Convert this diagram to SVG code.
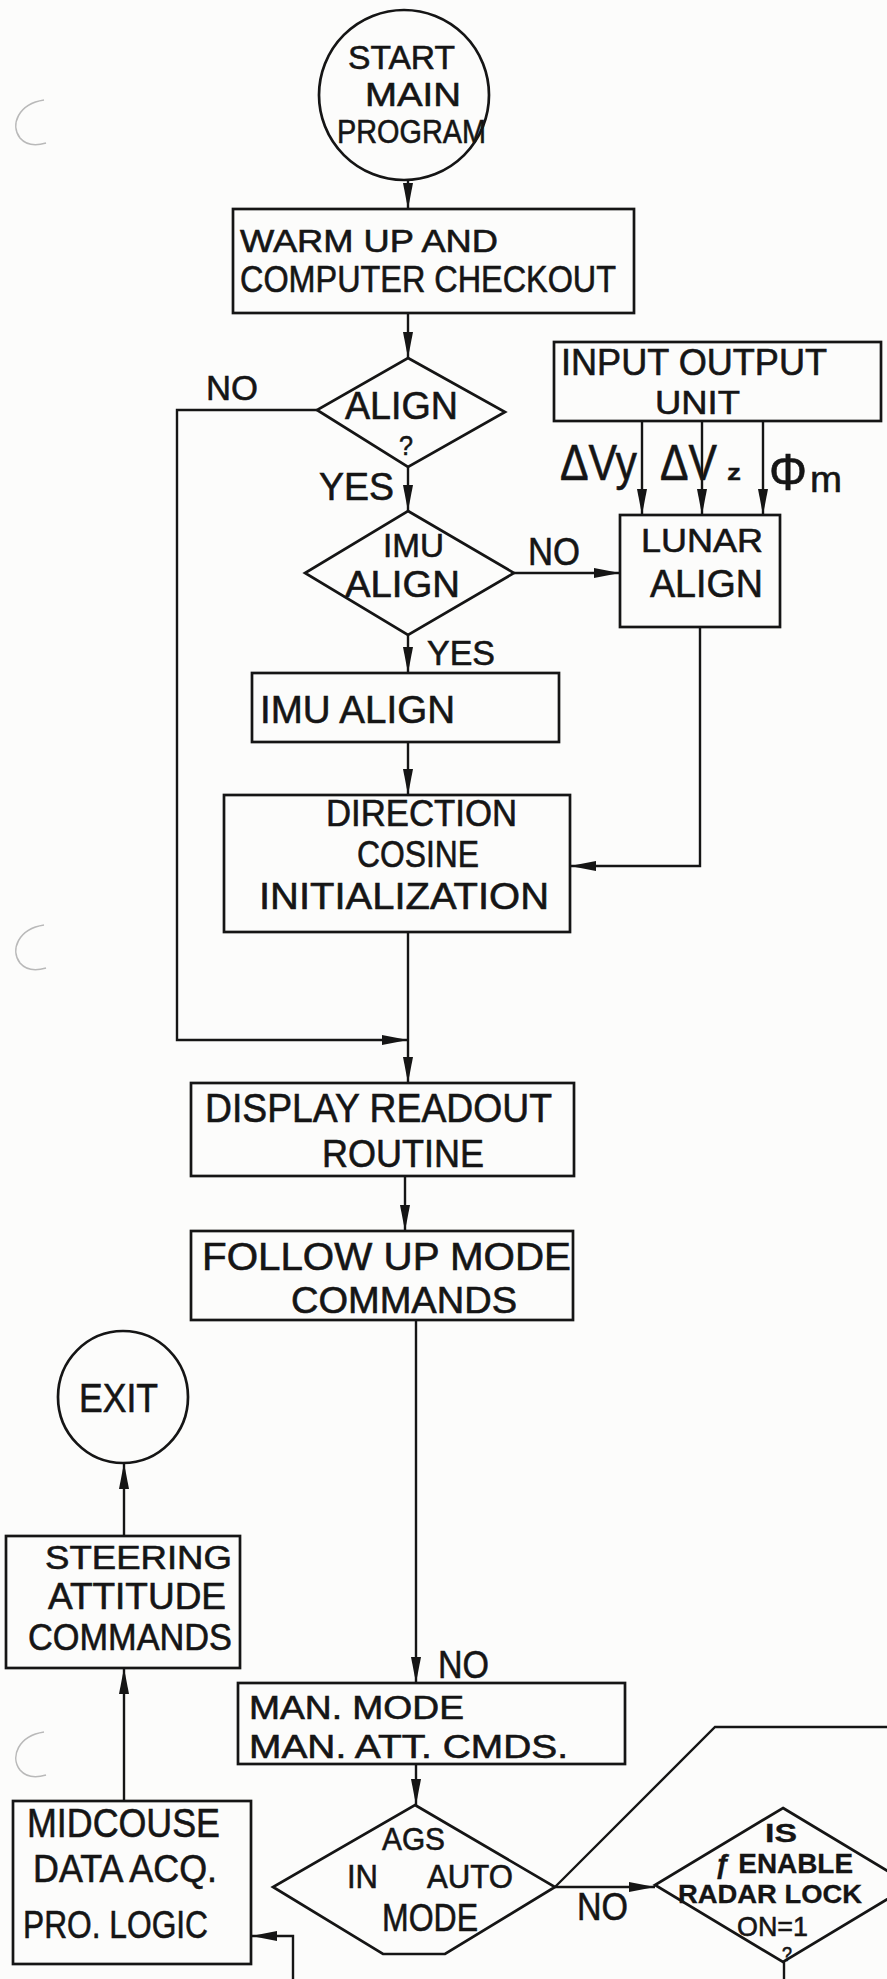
<svg xmlns="http://www.w3.org/2000/svg" width="887" height="1979" viewBox="0 0 887 1979">
<style>
.bg{fill:#fcfcfb}
.n{fill:none;stroke:#151515;stroke-width:2.7;stroke-linejoin:miter}
.c{fill:none;stroke:#151515;stroke-width:2.4}
.t{font-family:"Liberation Sans",Arial,sans-serif;fill:#151515;stroke:#151515;stroke-width:0.6;font-weight:normal}
.b{font-weight:bold;stroke-width:0.3}
.ghost{fill:none;stroke:#b9b9b9;stroke-width:1.6}
</style>
<defs>
<marker id="ah" markerUnits="userSpaceOnUse" markerWidth="28" markerHeight="14" refX="26" refY="6" orient="auto">
<path d="M0,1 L26,6 L0,11 Z" fill="#151515"/>
</marker>
</defs>
<rect class="bg" x="0" y="0" width="887" height="1979"/>
<g id="punch-marks">
<path class="ghost" d="M44,100 C18,104 10,125 20,138 C26,145 36,146 46,143"/>
<path class="ghost" d="M44,925 C18,929 10,950 20,963 C26,970 36,971 46,968"/>
<path class="ghost" d="M44,1732 C18,1736 10,1757 20,1770 C26,1777 36,1778 46,1775"/>
</g>
<g id="connectors">
<path class="c" d="M408,180 L408,209" marker-end="url(#ah)"/>
<path class="c" d="M408,313 L408,358" marker-end="url(#ah)"/>
<path class="c" d="M317,410 L177,410 L177,1040 L408,1040" marker-end="url(#ah)"/>
<path class="c" d="M408,467 L408,511" marker-end="url(#ah)"/>
<path class="c" d="M514,573 L620,573" marker-end="url(#ah)"/>
<path class="c" d="M642,421 L642,515" marker-end="url(#ah)"/>
<path class="c" d="M702,421 L702,515" marker-end="url(#ah)"/>
<path class="c" d="M763,421 L763,515" marker-end="url(#ah)"/>
<path class="c" d="M408,635 L408,673" marker-end="url(#ah)"/>
<path class="c" d="M408,742 L408,795" marker-end="url(#ah)"/>
<path class="c" d="M700,627 L700,866 L570,866" marker-end="url(#ah)"/>
<path class="c" d="M408,932 L408,1083" marker-end="url(#ah)"/>
<path class="c" d="M405,1176 L405,1231" marker-end="url(#ah)"/>
<path class="c" d="M416,1320 L416,1683" marker-end="url(#ah)"/>
<path class="c" d="M416,1764 L416,1805" marker-end="url(#ah)"/>
<path class="c" d="M555,1887 L655,1887" marker-end="url(#ah)"/>
<path class="c" d="M555,1887 L715,1727 L887,1727"/>
<path class="c" d="M784,1962 L784,1979"/>
<path class="c" d="M293,1979 L293,1936 L251,1936" marker-end="url(#ah)"/>
<path class="c" d="M124,1801 L124,1668" marker-end="url(#ah)"/>
<path class="c" d="M124,1536 L124,1463" marker-end="url(#ah)"/>
</g>
<g id="conn-labels">
<text class="t" x="206" y="400" font-size="35" textLength="52" lengthAdjust="spacingAndGlyphs">NO</text>
<text class="t" x="319" y="500" font-size="39" textLength="75" lengthAdjust="spacingAndGlyphs">YES</text>
<text class="t" x="528" y="565" font-size="38" textLength="52" lengthAdjust="spacingAndGlyphs">NO</text>
<text class="t" x="427" y="665" font-size="35" textLength="68" lengthAdjust="spacingAndGlyphs">YES</text>
<text class="t" x="560" y="480" font-size="50" textLength="77" lengthAdjust="spacingAndGlyphs">ΔVy</text>
<text class="t" x="660" y="480" font-size="50" textLength="57" lengthAdjust="spacingAndGlyphs">ΔV</text>
<text class="t b" x="727" y="480" font-size="22" textLength="14" lengthAdjust="spacingAndGlyphs">z</text>
<text class="t" x="769" y="490" font-size="52" textLength="38" lengthAdjust="spacingAndGlyphs">Φ</text>
<text class="t" x="810" y="492" font-size="36" textLength="32" lengthAdjust="spacingAndGlyphs">m</text>
<text class="t" x="438" y="1678" font-size="39" textLength="51" lengthAdjust="spacingAndGlyphs">NO</text>
<text class="t" x="577" y="1920" font-size="39" textLength="51" lengthAdjust="spacingAndGlyphs">NO</text>
</g>
<g id="start">
<ellipse class="n" cx="404" cy="95" rx="85" ry="85"/>
<text class="t" font-size="34"><tspan x="348" y="69" textLength="107" lengthAdjust="spacingAndGlyphs">START</tspan><tspan x="365" y="106" textLength="96" lengthAdjust="spacingAndGlyphs">MAIN</tspan><tspan x="337" y="143" textLength="149" lengthAdjust="spacingAndGlyphs">PROGRAM</tspan></text>
</g>
<g id="warmup">
<rect class="n" x="233" y="209" width="401" height="104"/>
<text class="t"><tspan x="240" y="252" font-size="32" textLength="258" lengthAdjust="spacingAndGlyphs">WARM UP AND</tspan><tspan x="240" y="292" font-size="36" textLength="376" lengthAdjust="spacingAndGlyphs">COMPUTER CHECKOUT</tspan></text>
</g>
<g id="align-q">
<polygon class="n" points="408,358 505,412 408,467 317,410"/>
<text class="t"><tspan x="345" y="419" font-size="38" textLength="113" lengthAdjust="spacingAndGlyphs">ALIGN</tspan><tspan x="399" y="455" font-size="28" textLength="14" lengthAdjust="spacingAndGlyphs">?</tspan></text>
</g>
<g id="imu-align-q">
<polygon class="n" points="408,511 514,573 408,635 305,573"/>
<text class="t"><tspan x="383" y="557" font-size="34" textLength="61" lengthAdjust="spacingAndGlyphs">IMU</tspan><tspan x="345" y="597" font-size="36" textLength="115" lengthAdjust="spacingAndGlyphs">ALIGN</tspan></text>
</g>
<g id="io-unit">
<rect class="n" x="554" y="342" width="327" height="79"/>
<text class="t"><tspan x="561" y="375" font-size="36" textLength="266" lengthAdjust="spacingAndGlyphs">INPUT OUTPUT</tspan><tspan x="655" y="414" font-size="34" textLength="85" lengthAdjust="spacingAndGlyphs">UNIT</tspan></text>
</g>
<g id="lunar-align">
<rect class="n" x="620" y="515" width="160" height="112"/>
<text class="t"><tspan x="641" y="552" font-size="34" textLength="122" lengthAdjust="spacingAndGlyphs">LUNAR</tspan><tspan x="650" y="597" font-size="38" textLength="113" lengthAdjust="spacingAndGlyphs">ALIGN</tspan></text>
</g>
<g id="imu-align">
<rect class="n" x="252" y="673" width="307" height="69"/>
<text class="t" x="260" y="723" font-size="39" textLength="195" lengthAdjust="spacingAndGlyphs">IMU ALIGN</text>
</g>
<g id="dir-cosine">
<rect class="n" x="224" y="795" width="346" height="137"/>
<text class="t" font-size="36"><tspan x="326" y="826" textLength="191" lengthAdjust="spacingAndGlyphs">DIRECTION</tspan><tspan x="357" y="867" textLength="122" lengthAdjust="spacingAndGlyphs">COSINE</tspan><tspan x="259" y="909" font-size="37" textLength="290" lengthAdjust="spacingAndGlyphs">INITIALIZATION</tspan></text>
</g>
<g id="display-readout">
<rect class="n" x="191" y="1083" width="383" height="93"/>
<text class="t"><tspan x="205" y="1122" font-size="40" textLength="347" lengthAdjust="spacingAndGlyphs">DISPLAY READOUT</tspan><tspan x="322" y="1167" font-size="38" textLength="162" lengthAdjust="spacingAndGlyphs">ROUTINE</tspan></text>
</g>
<g id="follow-up">
<rect class="n" x="191" y="1231" width="382" height="89"/>
<text class="t"><tspan x="202" y="1270" font-size="38" textLength="369" lengthAdjust="spacingAndGlyphs">FOLLOW UP MODE</tspan><tspan x="291" y="1313" font-size="36" textLength="226" lengthAdjust="spacingAndGlyphs">COMMANDS</tspan></text>
</g>
<g id="exit">
<ellipse class="n" cx="123" cy="1397" rx="65" ry="66"/>
<text class="t" x="79" y="1412" font-size="40" textLength="79" lengthAdjust="spacingAndGlyphs">EXIT</text>
</g>
<g id="steering">
<rect class="n" x="6" y="1536" width="234" height="132"/>
<text class="t"><tspan x="45" y="1569" font-size="33" textLength="187" lengthAdjust="spacingAndGlyphs">STEERING</tspan><tspan x="48" y="1609" font-size="36" textLength="178" lengthAdjust="spacingAndGlyphs">ATTITUDE</tspan><tspan x="28" y="1650" font-size="36" textLength="204" lengthAdjust="spacingAndGlyphs">COMMANDS</tspan></text>
</g>
<g id="man-mode">
<rect class="n" x="238" y="1683" width="387" height="81"/>
<text class="t" font-size="33"><tspan x="249" y="1719" textLength="215" lengthAdjust="spacingAndGlyphs">MAN. MODE</tspan><tspan x="249" y="1758" textLength="319" lengthAdjust="spacingAndGlyphs">MAN. ATT. CMDS.</tspan></text>
</g>
<g id="midcourse">
<rect class="n" x="13" y="1801" width="238" height="163"/>
<text class="t"><tspan x="27" y="1837" font-size="40" textLength="193" lengthAdjust="spacingAndGlyphs">MIDCOUSE</tspan><tspan x="33" y="1882" font-size="38" textLength="184" lengthAdjust="spacingAndGlyphs">DATA ACQ.</tspan><tspan x="23" y="1938" font-size="39" textLength="185" lengthAdjust="spacingAndGlyphs">PRO. LOGIC</tspan></text>
</g>
<g id="ags-auto">
<polygon class="n" points="415,1805 555,1887 445,1954 383,1954 273,1887"/>
<text class="t"><tspan x="382" y="1850" font-size="32" textLength="63" lengthAdjust="spacingAndGlyphs">AGS</tspan><tspan x="347" y="1888" font-size="34" textLength="31" lengthAdjust="spacingAndGlyphs">IN</tspan><tspan x="427" y="1888" font-size="34" textLength="86" lengthAdjust="spacingAndGlyphs">AUTO</tspan><tspan x="382" y="1931" font-size="38" textLength="96" lengthAdjust="spacingAndGlyphs">MODE</tspan></text>
</g>
<g id="radar-lock">
<polygon class="n" points="783,1808 911,1885 783,1962 655,1885"/>
<text class="t"><tspan class="b" x="765" y="1842" font-size="25" textLength="32" lengthAdjust="spacingAndGlyphs">IS</tspan><tspan class="b" x="715" y="1873" font-size="28" textLength="138" lengthAdjust="spacingAndGlyphs">ƒ ENABLE</tspan><tspan class="b" x="678" y="1903" font-size="25" textLength="184" lengthAdjust="spacingAndGlyphs">RADAR LOCK</tspan><tspan x="737" y="1936" font-size="28" textLength="71" lengthAdjust="spacingAndGlyphs">ON=1</tspan><tspan x="782" y="1961" font-size="20" textLength="10" lengthAdjust="spacingAndGlyphs">?</tspan></text>
</g>
</svg>
